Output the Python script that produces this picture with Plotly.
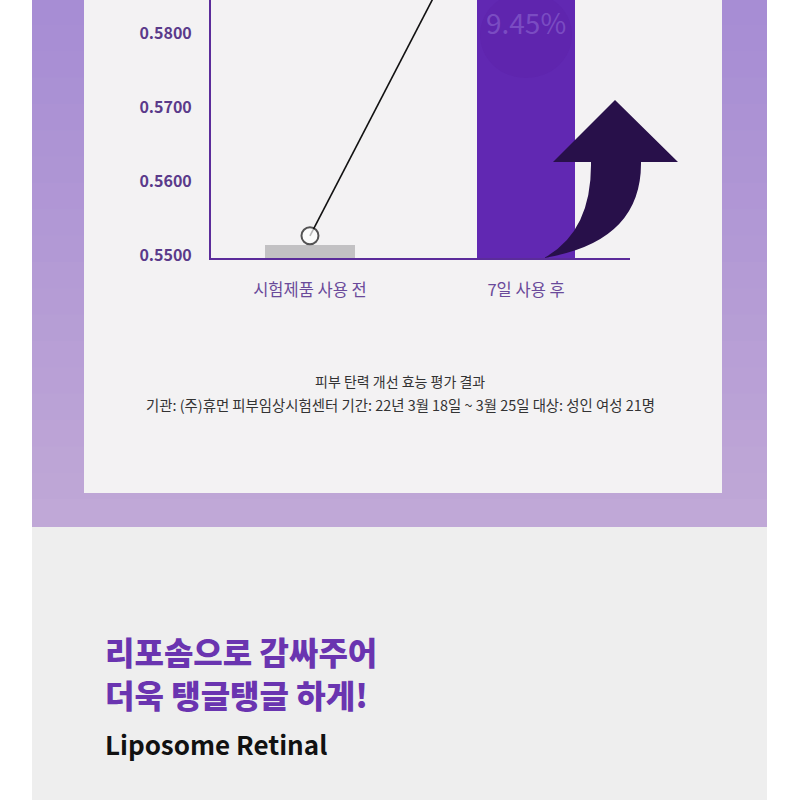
import plotly.graph_objects as go

# ---- data ----
categories = ["시험제품 사용 전", "7일 사용 후"]
bar_values = [0.5513, 0.6034]
line_values = [0.5526, 0.6090]
y_ticks = [0.55, 0.56, 0.57, 0.58]
y_tick_labels = ["0.5500", "0.5600", "0.5700", "0.5800"]
increase_label = "9.45%"
note_lines = ["피부 탄력 개선 효능 평가 결과",
              "기관: (주)휴먼 피부임상시험센터 기간: 22년 3월 18일 ~ 3월 25일 대상: 성인 여성 21명"]
headline = ["리포솜으로 감싸주어", "더욱 탱글탱글 하게!"]
subtitle = "Liposome Retinal"

W = H = 800
FIG_H = 808
KR = "Noto Sans CJK KR"

def px(x):
    return x / W

def py(y):
    return 1 - y / H

fig = go.Figure()

fig.add_trace(go.Bar(
    x=categories, y=bar_values,
    marker=dict(color=["#c2c1c3", "#6128b2"], line=dict(width=0)),
    width=[0.42, 0.455], hoverinfo="skip", showlegend=False,
))
fig.add_trace(go.Scatter(
    x=categories, y=line_values, mode="lines+markers",
    line=dict(color="#111111", width=1.6),
    marker=dict(size=[17, 0], color="white", line=dict(color="#111111", width=2)),
    hoverinfo="skip", showlegend=False,
))

shapes = []
# outer purple frame (vertical gradient as bands)
n = 20
top_c = (167, 141, 212)
bot_c = (192, 168, 215)
for i in range(n):
    t = i / (n - 1)
    c = tuple(int(top_c[k] + (bot_c[k] - top_c[k]) * t) for k in range(3))
    y0 = 527 * i / n
    y1 = 527 * (i + 1) / n
    shapes.append(dict(type="rect", xref="paper", yref="paper", layer="below",
                       x0=px(32), x1=px(767), y0=py(y1), y1=py(y0) + (0.002 if i else 0),
                       fillcolor="rgb(%d,%d,%d)" % c, line=dict(width=0)))
# inner panel
shapes.append(dict(type="rect", xref="paper", yref="paper", layer="below",
                   x0=px(84), x1=px(722), y0=py(493), y1=1.0,
                   fillcolor="#f3f2f3", line=dict(width=0)))
# lower gray section
shapes.append(dict(type="rect", xref="paper", yref="paper", layer="below",
                   x0=px(32), x1=px(767), y0=0, y1=py(527),
                   fillcolor="#eeeeee", line=dict(width=0)))
# subtle shading in the bar
shapes.append(dict(type="circle", xref="paper", yref="paper", layer="above",
                   x0=px(480), x1=px(572), y0=py(78), y1=py(-8),
                   fillcolor="rgba(80,20,150,0.12)", line=dict(width=0)))

# curved arrow
pts = [("M", 544, 258), ("Q", 592, 232, 591, 162), ("L", 553, 162), ("L", 615, 100),
       ("L", 678, 162), ("L", 641, 162), ("Q", 642, 242, 544, 258)]
path = ""
for p in pts:
    cmd = p[0]
    coords = p[1:]
    s = []
    for j in range(0, len(coords), 2):
        s.append("%.5f,%.5f" % (px(coords[j]), py(coords[j + 1])))
    path += cmd + " " + " ".join(s) + " "
path += "Z"
shapes.append(dict(type="path", xref="paper", yref="paper", layer="above",
                   path=path, fillcolor="#28104a", line=dict(width=0)))

def ann(text, x, y, size, color, xanchor="center", weight="normal"):
    return dict(text=text, x=x, y=y, xref="paper", yref="paper", xanchor=xanchor,
                yanchor="middle", showarrow=False,
                font=dict(family=KR, size=size, color=color, weight=weight))

annotations = [
    ann(increase_label, px(526), py(22), 28, "rgba(150,115,215,0.5)"),
    ann(note_lines[0], 0.5, py(381), 14, "#333333"),
    ann(note_lines[1], 0.5, py(404), 14.4, "#333333"),
    ann(headline[0], px(103), py(651), 32, "#6a34b0", "left", 900),
    ann(headline[1], px(103), py(694), 32, "#6a34b0", "left", 900),
    ann(subtitle, px(103), py(743), 26, "#111111", "left", "bold"),
]

fig.update_layout(
    width=W, height=FIG_H, margin=dict(l=0, r=0, t=0, b=0),
    paper_bgcolor="white", plot_bgcolor="rgba(0,0,0,0)",
    shapes=shapes, annotations=annotations, bargap=0,
    xaxis=dict(domain=[px(211), px(630)], range=[-0.458, 1.481], type="category",
               showgrid=False, zeroline=False, showline=True, linecolor="#5b2c9a",
               linewidth=2, ticks="", ticklabelstandoff=16,
               tickfont=dict(family=KR, size=16.5, color="#6a4a9a")),
    yaxis=dict(domain=[py(258), 1.0], range=[0.5496, 0.5845],
               tickvals=y_ticks, ticktext=y_tick_labels,
               showgrid=False, zeroline=False, showline=True, linecolor="#5b2c9a",
               linewidth=2, ticks="", ticklabelstandoff=14,
               tickfont=dict(family=KR, size=16, color="#5a3a8a", weight="bold")),
)

fig.write_html("out.html", config={"displayModeBar": False},
               post_script="document.body.style.margin='0';")
